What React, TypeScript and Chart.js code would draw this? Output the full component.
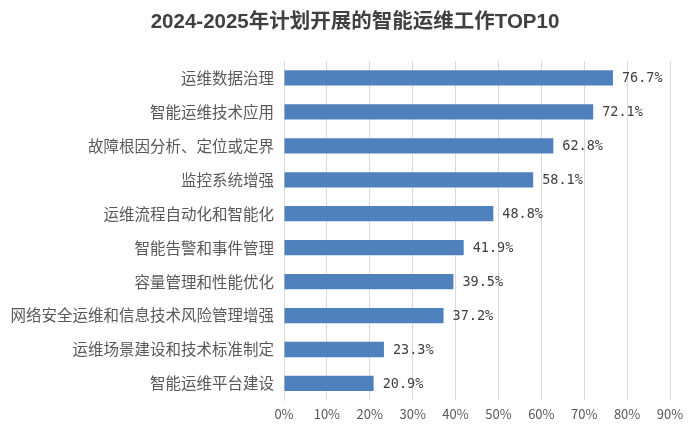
import React, { useEffect, useRef } from "react";
import { Chart, registerables } from "chart.js";

Chart.register(...registerables);

const categories = [
  "运维数据治理",
  "智能运维技术应用",
  "故障根因分析、定位或定界",
  "监控系统增强",
  "运维流程自动化和智能化",
  "智能告警和事件管理",
  "容量管理和性能优化",
  "网络安全运维和信息技术风险管理增强",
  "运维场景建设和技术标准制定",
  "智能运维平台建设",
];
const values = [76.7, 72.1, 62.8, 58.1, 48.8, 41.9, 39.5, 37.2, 23.3, 20.9];
const titleText = "2024-2025年计划开展的智能运维工作TOP10";

const labelPlugin = {
  id: "barLabels",
  afterDatasetsDraw(chart: any) {
    const ctx = chart.ctx;
    const meta = chart.getDatasetMeta(0);
    ctx.save();
    ctx.font = '13.5px "DejaVu Sans Mono", "Noto Sans CJK SC", monospace';
    ctx.fillStyle = "#404040";
    ctx.textAlign = "left";
    ctx.textBaseline = "middle";
    meta.data.forEach((bar: any, i: number) => {
      ctx.fillText(values[i].toFixed(1) + "%", bar.x + 9, bar.y + 1);
    });
    ctx.restore();
  },
};

const titlePlugin = {
  id: "customTitle",
  afterDraw(chart: any) {
    const ctx = chart.ctx;
    ctx.save();
    ctx.font = 'bold 20.5px "Liberation Sans", "Noto Sans CJK SC", sans-serif';
    ctx.fillStyle = "#404040";
    ctx.textAlign = "center";
    ctx.textBaseline = "middle";
    ctx.fillText(titleText, 355, 22);
    ctx.restore();
  },
};

export default function App() {
  const ref = useRef<HTMLCanvasElement>(null);
  useEffect(() => {
    const chart = new Chart(ref.current!, {
      type: "bar",
      data: {
        labels: categories,
        datasets: [
          {
            data: values,
            backgroundColor: "#4F81BD",
            barPercentage: 0.45,
            categoryPercentage: 1,
          },
        ],
      },
      options: {
        indexAxis: "y",
        animation: false,
        responsive: false,
        maintainAspectRatio: false,
        layout: { padding: { left: 6, right: 30, top: 61, bottom: 7 } },
        plugins: {
          legend: { display: false },
          tooltip: { enabled: false },
          title: { display: false },
        },
        scales: {
          x: {
            min: 0,
            max: 90,
            ticks: {
              stepSize: 10,
              callback: (v: any) => v + "%",
              color: "#595959",
              font: { size: 13, family: '"Noto Sans CJK SC", sans-serif' },
              padding: 6,
            },
            grid: { color: "#d9d9d9", drawTicks: false },
            border: { display: false },
          },
          y: {
            ticks: {
              color: "#595959",
              font: { size: 15.5, family: '"Noto Sans CJK SC", sans-serif' },
              padding: 10,
            },
            grid: { display: false, drawTicks: false },
            border: { display: true, color: "#d9d9d9" },
            afterFit: (scale: any) => {
              scale.width = 278;
            },
          },
        },
      },
      plugins: [labelPlugin, titlePlugin],
    });
    return () => chart.destroy();
  }, []);
  return (
    <div style={{ position: "absolute", left: 0, top: 0, width: 700, height: 435, background: "#fff" }}>
      <canvas ref={ref} width={700} height={435} />
    </div>
  );
}
